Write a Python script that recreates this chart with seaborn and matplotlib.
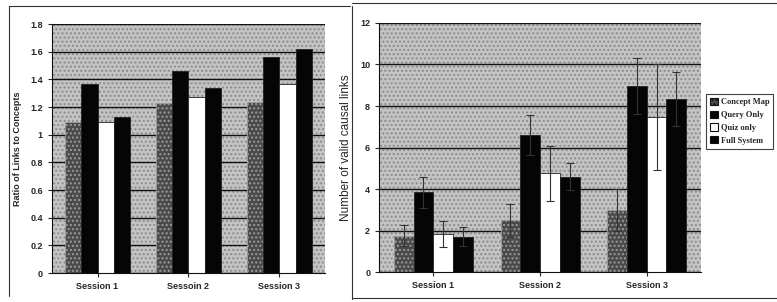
import numpy as np
import pandas as pd
import matplotlib
matplotlib.use("Agg")
import matplotlib.pyplot as plt
import seaborn as sns
from matplotlib.patches import Rectangle
from matplotlib.lines import Line2D

# data
sessions = ["Session 1", "Session 2", "Session 3"]
left_ticklabels = ["Session 1", "Sessoin 2", "Session 3"]
groups = ["Concept Map", "Query Only", "Quiz only", "Full System"]

ratio_links = {
    "Concept Map": [1.09, 1.23, 1.24],
    "Query Only": [1.37, 1.46, 1.56],
    "Quiz only": [1.09, 1.27, 1.37],
    "Full System": [1.13, 1.34, 1.62],
}
valid_links = {
    "Concept Map": [1.75, 2.5, 3.0],
    "Query Only": [3.85, 6.6, 8.95],
    "Quiz only": [1.85, 4.75, 7.45],
    "Full System": [1.7, 4.6, 8.35],
}
valid_err = {
    "Concept Map": [0.5, 0.8, 1.0],
    "Query Only": [0.75, 0.95, 1.35],
    "Quiz only": [0.62, 1.33, 2.55],
    "Full System": [0.45, 0.65, 1.3],
}

colors = {"Concept Map": "#4a4a4a", "Query Only": "#050505",
          "Quiz only": "#ffffff", "Full System": "#050505"}


def to_long(d):
    rows = []
    for g in groups:
        for s, v in zip(sessions, d[g]):
            rows.append({"session": s, "group": g, "value": v})
    return pd.DataFrame(rows)


df_ratio = to_long(ratio_links)
df_valid = to_long(valid_links)

sns.set_style("white")
plt.rcParams["font.family"] = ["Liberation Sans", "DejaVu Sans"]

fig = plt.figure(figsize=(7.77, 3.02), dpi=100)
ax1 = fig.add_axes([0.067, 0.096, 0.351, 0.824])
ax2 = fig.add_axes([0.488, 0.099, 0.414, 0.825])

sns.barplot(data=df_ratio, x="session", y="value", hue="group", hue_order=groups,
            palette=colors, width=0.72, errorbar=None, edgecolor="#222222",
            linewidth=0.6, legend=False, ax=ax1)
sns.barplot(data=df_valid, x="session", y="value", hue="group", hue_order=groups,
            palette=colors, width=0.74, errorbar=None, edgecolor="#222222",
            linewidth=0.6, legend=False, ax=ax2)

for ax in (ax1, ax2):
    ax.set_facecolor("#c4c4c4")
    ax.add_patch(Rectangle((0, 0), 1, 1, transform=ax.transAxes, facecolor="none",
                           hatch="....", edgecolor="#8c8c8c", linewidth=0, zorder=0))
    ax.set_axisbelow(True)
    # texture on concept map bars
    for p in ax.containers[0]:
        p.set_hatch("....")
        p.set_edgecolor("#9a9a9a")

# error bars on right chart, placed at the bar centres
for i, g in enumerate(groups):
    bars = ax2.containers[i]
    xs = [b.get_x() + b.get_width() / 2 for b in bars]
    ax2.errorbar(xs, valid_links[g], yerr=valid_err[g], fmt="none",
                 ecolor="#333333", elinewidth=0.8, capsize=3, capthick=0.8, zorder=5)

ax1.set_ylim(0, 1.8)
ax1.set_yticks(np.arange(0, 1.81, 0.2))
ax1.set_yticklabels(["0", "0.2", "0.4", "0.6", "0.8", "1", "1.2", "1.4", "1.6", "1.8"])
ax1.set_xticks(range(3))
ax1.set_xticklabels(left_ticklabels)
ax1.set_ylabel("Ratio of Links to Concepts", fontsize=6.5, fontweight="bold", labelpad=6)

ax2.set_ylim(0, 12)
ax2.set_yticks(range(0, 13, 2))
ax2.set_xticks(range(3))
ax2.set_xticklabels(sessions)
ax2.set_ylabel("Number of valid causal links", fontsize=8.5, labelpad=6)

for ax in (ax1, ax2):
    ax.set_xlabel("")
    ax.yaxis.grid(True, color="#111111", linewidth=1.0)
    ax.tick_params(axis="both", labelsize=6.5, length=3, width=0.8, direction="out",
                   left=True, bottom=True)
    for t in ax.get_xticklabels() + ax.get_yticklabels():
        t.set_fontweight("bold")
    for side in ("top", "right"):
        ax.spines[side].set_visible(False)
    ax.spines["left"].set_color("#111111")
    ax.spines["bottom"].set_color("#111111")

# legend box
handles = [Rectangle((0, 0), 1, 1, facecolor=colors[g], edgecolor="#111111",
                     hatch="...." if g == "Concept Map" else None, linewidth=0.8)
           for g in groups]
leg = fig.legend(handles, groups, loc="upper left", bbox_to_anchor=(0.908, 0.69),
                 frameon=True, fancybox=False, edgecolor="#111111",
                 prop={"family": "Liberation Serif", "weight": "bold", "size": 6},
                 handlelength=1.0, handleheight=1.0, handletextpad=0.3,
                 borderpad=0.5, labelspacing=0.5, borderaxespad=0)
leg.get_frame().set_linewidth(0.8)

# outer panel frames
frame = dict(color="#333333", linewidth=0.8, transform=fig.transFigure)
fig.add_artist(Line2D([0.011, 0.011], [0.02, 0.98], **frame))
fig.add_artist(Line2D([0.011, 0.45], [0.98, 0.98], **frame))
fig.add_artist(Line2D([0.453, 0.453], [0.01, 0.98], **frame))
fig.add_artist(Line2D([0.453, 1.0], [0.99, 0.99], **frame))
fig.add_artist(Line2D([0.453, 1.0], [0.012, 0.012], **frame))

fig.savefig("out.png", dpi=100)
